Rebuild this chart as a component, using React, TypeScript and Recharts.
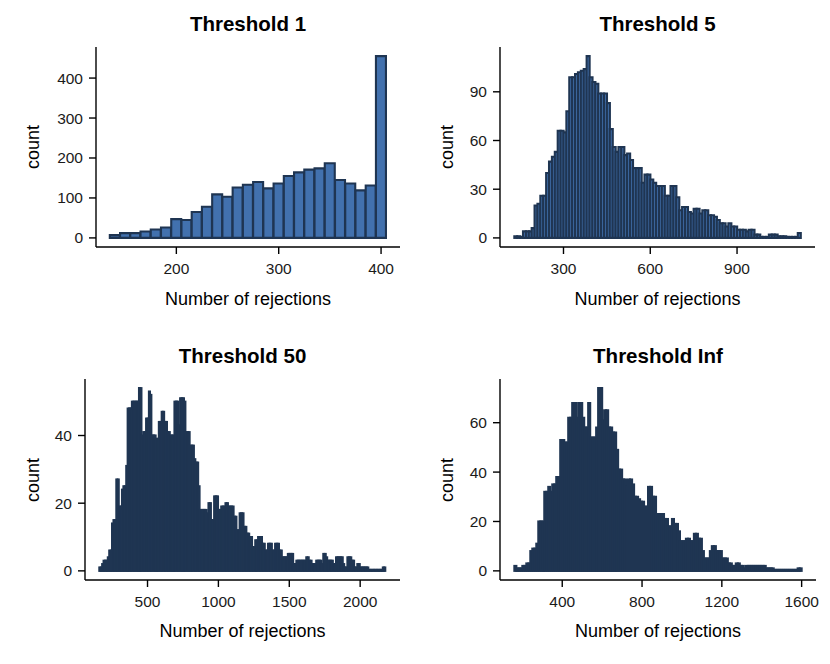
import React from "react";
import { Bar, BarChart, XAxis, YAxis } from "recharts";

const BIN_WIDTH = 10;

// Threshold 1 : bin centres 140 .. 400
const t1Start = 140;
const t1Counts = [7, 12, 12, 16, 21, 26, 47, 45, 65, 78, 109, 103, 126, 133, 140, 124, 136, 155, 164, 171, 174, 187, 145, 136, 119, 131, 455];
const t1XTicks = [200, 300, 400];
const t1YTicks = [0, 100, 200, 300, 400];

// Threshold 5 : bin centres 135 .. 1115
const t5Start = 135;
const t5Counts = [
  1, 1, 0, 4, 4, 4, 6, 20, 21, 26,
  26, 40, 47, 50, 53, 66, 66, 65, 78, 99,
  99, 101, 102, 103, 104, 112, 99, 96, 95, 89,
  89, 89, 83, 67, 56, 53, 56, 56, 51, 52,
  48, 43, 43, 43, 34, 39, 39, 36, 34, 32,
  32, 32, 26, 26, 32, 32, 25, 17, 19, 19,
  16, 15, 18, 18, 15, 17, 17, 14, 14, 13,
  11, 9, 9, 7, 9, 7, 7, 5, 5, 5,
  4, 5, 5, 2, 2, 0, 0, 0, 2, 2,
  2, 1, 1, 1, 0, 0, 0, 0, 3,
];
const t5XTicks = [300, 600, 900];
const t5YTicks = [0, 30, 60, 90];

// Threshold 50 : bin centres 165 .. 2175
const t50Start = 165;
const t50Counts = [
  1, 1, 2, 3, 3, 3, 4, 6, 6, 14,
  15, 15, 27, 27, 19, 19, 24, 25, 25, 31,
  48, 48, 48, 50, 50, 50, 50, 50, 54, 54,
  40, 41, 41, 45, 45, 53, 52, 40, 40, 40,
  39, 39, 44, 44, 47, 47, 44, 44, 41, 41,
  40, 40, 40, 50, 50, 50, 43, 51, 51, 51,
  50, 41, 41, 41, 37, 37, 37, 33, 32, 32,
  25, 18, 18, 18, 18, 18, 17, 20, 20, 15,
  15, 22, 22, 22, 18, 18, 19, 19, 19, 20,
  20, 19, 19, 19, 19, 16, 16, 12, 12, 17,
  17, 17, 13, 13, 11, 11, 10, 10, 7, 7,
  9, 9, 10, 10, 10, 8, 8, 6, 6, 8,
  8, 8, 6, 6, 8, 8, 8, 6, 6, 4,
  4, 4, 4, 5, 5, 5, 5, 2, 2, 3,
  3, 3, 3, 3, 3, 3, 4, 4, 3, 3,
  2, 2, 2, 3, 3, 3, 3, 2, 5, 5,
  4, 3, 3, 3, 3, 2, 2, 4, 4, 4,
  4, 4, 2, 1, 1, 4, 4, 4, 3, 3,
  1, 1, 2, 2, 1, 1, 1, 1, 1, 1,
  0, 0, 0, 0, 0, 0, 0, 0, 0, 0,
  1, 1,
];
const t50XTicks = [500, 1000, 1500, 2000];
const t50YTicks = [0, 20, 40];

// Threshold Inf : bin centres 165 .. 1595
const tInfStart = 165;
const tInfCounts = [
  2, 1, 1, 1, 2, 2, 3, 3, 8, 9,
  9, 11, 20, 20, 20, 32, 32, 34, 32, 35,
  35, 38, 38, 53, 53, 52, 52, 62, 62, 68,
  68, 62, 68, 68, 62, 58, 58, 68, 54, 54,
  54, 58, 74, 74, 61, 65, 65, 58, 58, 56,
  56, 49, 41, 41, 37, 37, 34, 37, 37, 35,
  30, 30, 29, 28, 28, 26, 26, 34, 34, 30,
  30, 23, 22, 23, 23, 21, 21, 18, 18, 21,
  19, 19, 16, 12, 12, 12, 13, 13, 12, 12,
  15, 15, 13, 13, 8, 5, 5, 5, 8, 10,
  10, 8, 8, 8, 5, 5, 5, 3, 3, 2,
  2, 3, 3, 2, 2, 1, 2, 2, 2, 2,
  2, 2, 2, 2, 2, 2, 1, 1, 1, 1,
  0, 0, 0, 0, 0, 0, 0, 0, 0, 0,
  0, 0, 1, 1,
];
const tInfXTicks = [400, 800, 1200, 1600];
const tInfYTicks = [0, 20, 40, 60];

type Bin = { x: number; count: number };

function toBins(start: number, counts: number[]): Bin[] {
  return counts.map((count, i) => ({ x: start + i * BIN_WIDTH, count }));
}

const FONT = "'Liberation Sans', Arial, Helvetica, sans-serif";
const FILL = "#4271AE";
const OUTLINE = "#1F3552";
const W = 415;
const H = 332;

type PanelProps = {
  title: string;
  data: Bin[];
  xTicks: number[];
  yTicks: number[];
  left: number;
  top: number;
  plotLeft: number;
  plotRight: number;
  plotBottom: number;
  countX: number;
};

function Panel({ title, data, xTicks, yTicks, left, top, plotLeft, plotRight, plotBottom, countX }: PanelProps) {
  const lo = data[0].x - BIN_WIDTH / 2;
  const hi = data[data.length - 1].x + BIN_WIDTH / 2;
  const maxCount = Math.max(...data.map((d) => d.count));
  const xPad = (hi - lo) * 0.05;
  const yPad = maxCount * 0.05;
  const yAxisWidth = 60;
  const xAxisHeight = 30;
  const plotTop = 47;
  const centerX = (plotLeft + (W - plotRight)) / 2;
  const axisStyle = { stroke: "#000", strokeWidth: 1.4 };
  const tickStyle = { fill: "#1a1a1a", fontSize: 15.5, fontFamily: FONT };

  return (
    <div style={{ position: "absolute", left, top, width: W, height: H }}>
      <BarChart
        width={W}
        height={H}
        data={data}
        margin={{ top: plotTop, right: plotRight, left: plotLeft - yAxisWidth, bottom: H - plotBottom - xAxisHeight }}
        barCategoryGap={0}
        barGap={0}
      >
        <XAxis
          dataKey="x"
          type="number"
          domain={[lo - xPad, hi + xPad]}
          ticks={xTicks}
          interval={0}
          height={xAxisHeight}
          tickSize={7}
          tickMargin={9}
          axisLine={axisStyle}
          tickLine={axisStyle}
          tick={tickStyle}
        />
        <YAxis
          type="number"
          domain={[-yPad, maxCount + yPad]}
          ticks={yTicks}
          interval={0}
          width={yAxisWidth}
          tickSize={7}
          tickMargin={6}
          axisLine={axisStyle}
          tickLine={axisStyle}
          tick={tickStyle}
        />
        <Bar dataKey="count" fill={FILL} stroke={OUTLINE} strokeWidth={2.1} minPointSize={1} isAnimationActive={false} />
      </BarChart>
      <div style={{ position: "absolute", left: centerX, top: 24, transform: "translate(-50%, -50%)", fontFamily: FONT, fontWeight: "bold", fontSize: 20.5, lineHeight: 1, whiteSpace: "nowrap", color: "#000" }}>
        {title}
      </div>
      <div style={{ position: "absolute", left: centerX, top: 299, transform: "translate(-50%, -50%)", fontFamily: FONT, fontSize: 18, lineHeight: 1, whiteSpace: "nowrap", color: "#000" }}>
        Number of rejections
      </div>
      <div style={{ position: "absolute", left: countX, top: (plotTop + plotBottom) / 2, transform: "translate(-50%, -50%) rotate(-90deg)", fontFamily: FONT, fontSize: 18, lineHeight: 1, whiteSpace: "nowrap", color: "#000" }}>
        count
      </div>
    </div>
  );
}

export default function App() {
  return (
    <div style={{ position: "absolute", left: 0, top: 0, width: 830, height: 664, background: "#fff", overflow: "hidden" }}>
      <Panel title="Threshold 1" data={toBins(t1Start, t1Counts)} xTicks={t1XTicks} yTicks={t1YTicks} left={0} top={0} plotLeft={96} plotRight={15} plotBottom={247} countX={33} />
      <Panel title="Threshold 5" data={toBins(t5Start, t5Counts)} xTicks={t5XTicks} yTicks={t5YTicks} left={415} top={0} plotLeft={85} plotRight={15} plotBottom={247} countX={32} />
      <Panel title="Threshold 50" data={toBins(t50Start, t50Counts)} xTicks={t50XTicks} yTicks={t50YTicks} left={0} top={332} plotLeft={85} plotRight={15} plotBottom={248} countX={33} />
      <Panel title="Threshold Inf" data={toBins(tInfStart, tInfCounts)} xTicks={tInfXTicks} yTicks={tInfYTicks} left={415} top={332} plotLeft={85} plotRight={14} plotBottom={248} countX={32} />
    </div>
  );
}
